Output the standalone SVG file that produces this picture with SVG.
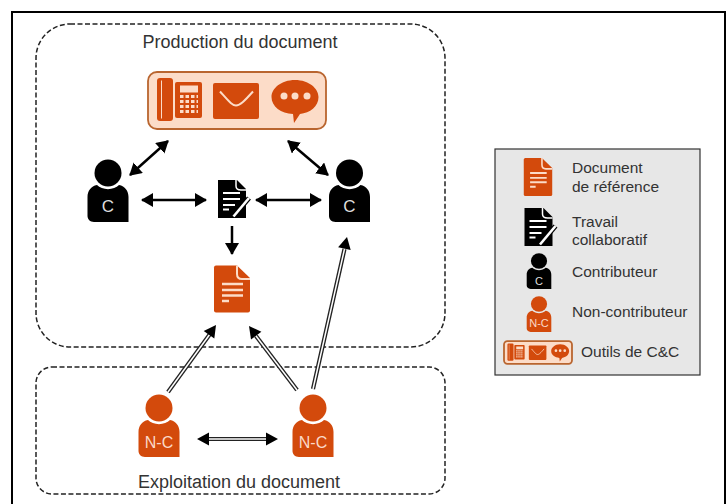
<svg xmlns="http://www.w3.org/2000/svg" width="728" height="504" viewBox="0 0 728 504">
<style>
text{font-family:"Liberation Sans",Arial,sans-serif;fill:#333}
.t{font-size:18px}.l{font-size:15.500px}
.zone{fill:none;stroke:#222;stroke-width:1.5;stroke-dasharray:5 2.500}
.c{stroke:#000;stroke-width:2.500;fill:none}
.d{stroke:#222;stroke-width:4.200;fill:none}
.di{stroke:#fff;stroke-width:1.500;fill:none}
.o{fill:#d34a0c}.k{fill:#000}
.pale{fill:#fcdcc8}
</style>
<defs>
<marker id="a" markerUnits="userSpaceOnUse" markerWidth="12" markerHeight="14" refX="11" refY="7" orient="auto-start-reverse"><path d="M0 0L12 7L0 14z" fill="#000"/></marker>
<g id="person"><circle cx="0" cy="-21" r="13.500"/><path d="M-11 -9C-6 -3.500 6 -3.500 11 -9C17 -8 20.500 -3 20.500 3V28H-14C-18 28 -20.500 25 -20.500 22V3C-20.500 -3 -17 -8 -11 -9z"/></g>
<g id="doc"><path d="M-18 -21.500Q-18 -23.500 -16 -23.500H5L18 -11V21.500Q18 23.500 16 23.500H-16Q-18 23.500 -18 21.500z"/><path d="M5 -23.500V-15Q5 -10 10 -10H18" fill="none" stroke="#fcdcc8" stroke-width="2"/><path d="M-10 -5H11M-10 1H11M-10 6.500H11M-10 12H-3" stroke="#fcdcc8" stroke-width="2.300" fill="none"/></g>
<g id="work"><path d="M-14 -19H5L14 -10V19H-14z" fill="#000"/><path d="M4 -19V-13Q4 -9 9 -9H14" fill="none" stroke="#fff" stroke-width="1.500"/><path d="M-9 -6H8M-9 0H8M-9 6H3M-9 10.500H-3" stroke="#fff" stroke-width="2" fill="none"/><path d="M1.500 17.500L17 -1" stroke="#000" stroke-width="5" fill="none"/><path d="M1.500 17.500L17 -1" stroke="#fff" stroke-width="2.600" fill="none"/></g>
<g id="tools">
<rect x="-89" y="-28.500" width="178" height="57" rx="9" class="pale" stroke="#b9652f" stroke-width="1.800" vector-effect="non-scaling-stroke"/>
<rect x="-80" y="-22.500" width="16" height="43" rx="3" class="o"/><path d="M-75.500 -20V18" stroke="#fcdcc8" stroke-width="1"/><rect x="-62" y="-18.500" width="27" height="36" rx="2" class="o"/>
<rect x="-57" y="-15" width="18" height="7" class="pale"/>
<path d="M-57 -4H-39M-57 1H-39M-57 6H-39M-57 11H-39" stroke="#fcdcc8" stroke-width="3" stroke-dasharray="3.500 2" fill="none"/>
<rect x="-24" y="-17.500" width="46" height="36" rx="2" class="o"/><path d="M-17 -9C-8 1 -5 5 -1 5C3 5 7 1 16 -9" fill="none" stroke="#fcdcc8" stroke-width="2"/>
<path d="M58 -20.500C72 -20.500 81.500 -12 81.500 -3.500C81.500 6 73 12.500 63 13.500L57 22.500L56 13.500C44 13 34.500 6 34.500 -3.500C34.500 -12 44 -20.500 58 -20.500z" class="o"/>
<circle cx="47" cy="-4.500" r="3.500" class="pale"/><circle cx="58" cy="-4.500" r="3.500" class="pale"/><circle cx="70" cy="-4.500" r="3.500" class="pale"/>
</g>
</defs>
<rect width="728" height="504" fill="#fff"/>
<rect x="12" y="12" width="713" height="500" fill="none" stroke="#000" stroke-width="2"/>
<rect class="zone" x="36" y="24" width="409" height="323" rx="34"/>
<rect class="zone" x="36" y="367" width="409" height="127" rx="16"/>
<text class="t" x="240" y="48" text-anchor="middle">Production du document</text>
<text class="t" x="239" y="488" text-anchor="middle">Exploitation du document</text>
<g id="connectors">
<path class="c" d="M130 175L168 141" marker-start="url(#a)" marker-end="url(#a)"/>
<path class="c" d="M328 175L288 141" marker-start="url(#a)" marker-end="url(#a)"/>
<path class="c" d="M142 200H206" marker-start="url(#a)" marker-end="url(#a)"/>
<path class="c" d="M256 200H321" marker-start="url(#a)" marker-end="url(#a)"/>
<path class="c" d="M232 226V254" marker-end="url(#a)"/>
<g id="double">
<path class="d" d="M168 392L210 334"/><path class="di" d="M168 392L210 334"/><path class="k" d="M216 325L214.300 338.500L203.700 330.900z"/>
<path class="d" d="M297 390L256 336"/><path class="di" d="M297 390L256 336"/><path class="k" d="M249 326L261.400 331.700L251 339.500z"/>
<path class="d" d="M313 389L344.500 249"/><path class="di" d="M313 389L344.500 249"/><path class="k" d="M347 237L350.700 250.100L338.100 247.300z"/>
<path class="d" d="M208 439H268"/><path class="di" d="M208 439H268"/><path class="k" d="M197 439L209 432.500V445.500zM278 439L266 432.500V445.500z"/>
</g>
</g>
<g id="tools-main" transform="translate(237,100.500)"><use href="#tools"/></g>
<g id="contrib-left" class="k"><use href="#person" transform="translate(108,194)"/><text x="108" y="212" text-anchor="middle" style="font-size:17px;fill:#ddd">C</text></g>
<g id="contrib-right" class="k"><use href="#person" transform="translate(349.500,194)"/><text x="349.500" y="212" text-anchor="middle" style="font-size:17px;fill:#ddd">C</text></g>
<g id="work-main" transform="translate(232,199)"><use href="#work"/></g>
<g id="doc-main" class="o" transform="translate(232,289)"><use href="#doc"/></g>
<g id="nc-left" class="o"><use href="#person" transform="translate(159,429)"/><text x="159" y="448" text-anchor="middle" style="font-size:16px;fill:#fbd9c8">N-C</text></g>
<g id="nc-right" class="o"><use href="#person" transform="translate(313,429)"/><text x="313" y="448" text-anchor="middle" style="font-size:16px;fill:#fbd9c8">N-C</text></g>
<g id="legend">
<rect x="495" y="149" width="205" height="226" fill="#e7e7e7" stroke="#333" stroke-width="1.200"/>
<g class="o" transform="translate(538,177) scale(.79,.81)"><use href="#doc"/></g>
<g transform="translate(538.500,227)"><use href="#work"/></g>
<g class="k" transform="translate(539,273) scale(.6,.57)"><use href="#person"/></g>
<text x="539" y="285" text-anchor="middle" style="font-size:11px;fill:#ddd">C</text>
<g class="o" transform="translate(539,316) scale(.6,.57)"><use href="#person"/></g>
<text x="539" y="327" text-anchor="middle" style="font-size:11px;fill:#fbd9c8">N-C</text>
<g transform="translate(538,352.500) scale(.382,.4)"><use href="#tools"/></g>
<text class="l" x="572" y="173">Document</text><text class="l" x="572" y="192">de référence</text>
<text class="l" x="572" y="227">Travail</text><text class="l" x="572" y="245">collaboratif</text>
<text class="l" x="572" y="277">Contributeur</text>
<text class="l" x="572" y="317">Non-contributeur</text>
<text class="l" x="581" y="357">Outils de C&amp;C</text>
</g>
</svg>
